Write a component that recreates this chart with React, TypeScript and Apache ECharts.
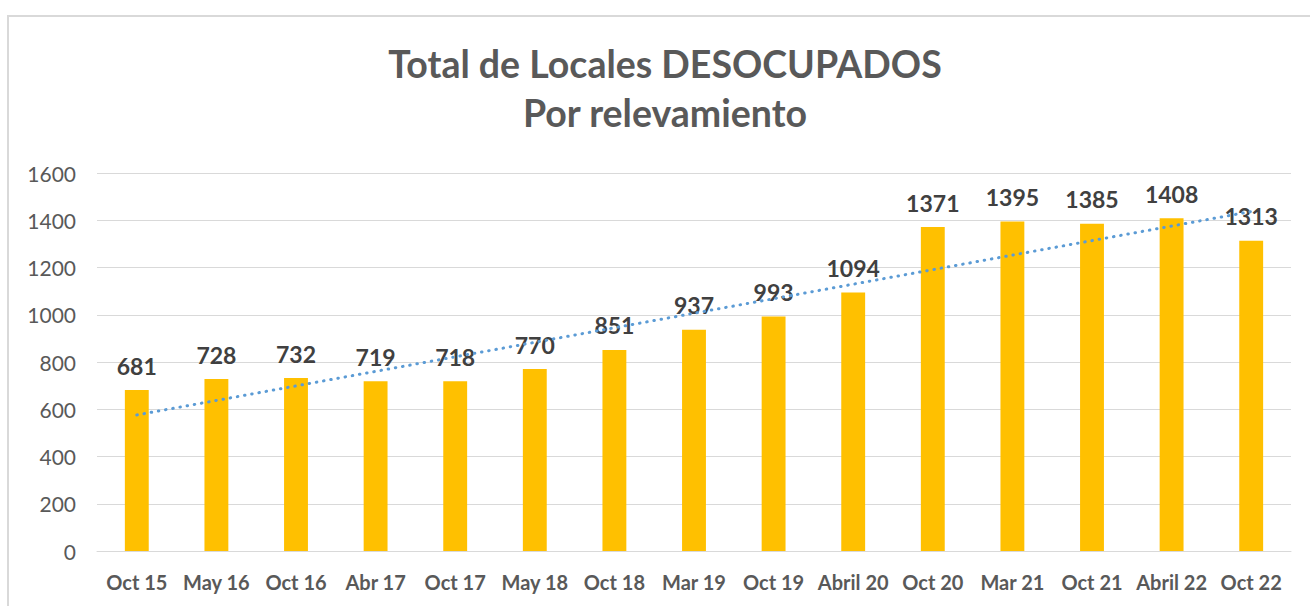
import React, { useEffect, useRef } from "react";
import * as echarts from "echarts";

const categories = ["Oct 15", "May 16", "Oct 16", "Abr 17", "Oct 17", "May 18", "Oct 18", "Mar 19", "Oct 19", "Abril 20", "Oct 20", "Mar 21", "Oct 21", "Abril 22", "Oct 22"];
const values = [681, 728, 732, 719, 718, 770, 851, 937, 993, 1094, 1371, 1395, 1385, 1408, 1313];
const titleLines = ["Total de Locales DESOCUPADOS", "Por relevamiento"];

// Linear trendline (least squares) derived from the bar values
function linearTrend(ys: number[]): number[] {
  const n = ys.length;
  const mx = (n - 1) / 2;
  const my = ys.reduce((a, b) => a + b, 0) / n;
  let sxy = 0, sxx = 0;
  ys.forEach((y, i) => { sxy += (i - mx) * (y - my); sxx += (i - mx) * (i - mx); });
  const b = sxy / sxx;
  const a = my - b * mx;
  return ys.map((_, i) => a + b * i);
}

const FONT = "Lato, 'Open Sans', sans-serif";

export default function App() {
  const ref = useRef<HTMLDivElement>(null);
  useEffect(() => {
    if (!ref.current) return;
    const chart = echarts.init(ref.current, undefined, { renderer: "svg" });
    const trend = linearTrend(values);
    chart.setOption({
      animation: false,
      backgroundColor: "#ffffff",
      graphic: [
        {
          type: "rect",
          shape: { x: 8, y: 16, width: 1340, height: 640 },
          style: { fill: "none", stroke: "#d9d9d9", lineWidth: 2 },
          silent: true,
        },
        {
          type: "text",
          x: 665,
          y: 39,
          silent: true,
          style: {
            text: titleLines.join("\n"),
            align: "center",
            verticalAlign: "top",
            fontFamily: FONT,
            fontSize: 37.5,
            fontWeight: "bold",
            fill: "#595959",
            lineHeight: 49,
          },
        },
      ],
      grid: { left: 97, right: 19, top: 173, bottom: 55 },
      xAxis: {
        type: "category",
        data: categories,
        axisLine: { lineStyle: { color: "#d9d9d9", width: 1 } },
        axisTick: { show: false },
        axisLabel: { fontFamily: FONT, fontSize: 20, fontWeight: "bold", color: "#595959", margin: 21, interval: 0 },
      },
      yAxis: {
        type: "value",
        min: 0,
        max: 1600,
        interval: 200,
        axisLine: { show: false },
        axisTick: { show: false },
        splitLine: { lineStyle: { color: "#d9d9d9", width: 1 } },
        axisLabel: { fontFamily: FONT, fontSize: 21, color: "#595959", margin: 21, formatter: (v: number) => String(v) },
      },
      series: [
        {
          type: "bar",
          data: values,
          barWidth: "30%",
          itemStyle: { color: "#FFC000" },
          label: {
            show: true,
            position: "top",
            distance: 13,
            fontFamily: FONT,
            fontSize: 23,
            fontWeight: "bold",
            color: "#404040",
          },
          z: 2,
        },
        {
          type: "line",
          data: trend,
          symbol: "none",
          silent: true,
          lineStyle: { color: "#5B9BD5", width: 3, type: [0.5, 6.8], cap: "round" },
          z: 3,
        },
      ],
    });
    return () => chart.dispose();
  }, []);
  return <div ref={ref} style={{ position: "fixed", left: 0, top: 0, width: 1310, height: 606 }} />;
}
